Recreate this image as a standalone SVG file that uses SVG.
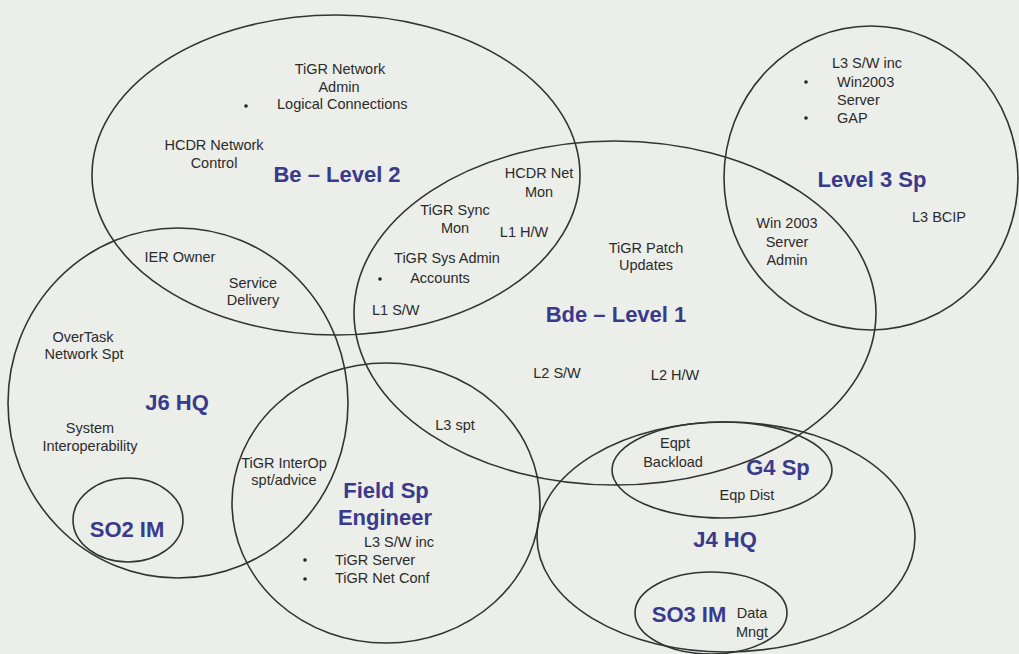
<svg xmlns="http://www.w3.org/2000/svg" width="1019" height="654" viewBox="0 0 1019 654">
<style>
.e{fill:none;stroke:#333;stroke-width:1.6}
.t{font-family:"Liberation Sans",Arial,sans-serif;font-size:14.5px;fill:#2b2b2b;text-anchor:middle}
.l{text-anchor:start}
.h{font-family:"Liberation Sans",Arial,sans-serif;font-size:22px;font-weight:bold;fill:#3a3a8c;text-anchor:middle}
.b{fill:#222}
</style>
<rect width="1019" height="654" fill="#eceee9"/>
<g id="be-level2">
<ellipse class="e" cx="336" cy="175" rx="244" ry="160"/>
<text class="t" x="340" y="74">TiGR Network</text>
<text class="t" x="339" y="92">Admin</text>
<circle class="b" cx="246" cy="106" r="1.8"/>
<text class="t l" x="277" y="109">Logical Connections</text>
<text class="t" x="214" y="150">HCDR Network</text>
<text class="t" x="214" y="168">Control</text>
<text class="h" x="337" y="182">Be – Level 2</text>
<text class="t" x="455" y="215">TiGR Sync</text>
<text class="t" x="455" y="233">Mon</text>
<text class="t" x="447" y="263">TiGR Sys Admin</text>
<circle class="b" cx="380" cy="279" r="1.8"/>
<text class="t" x="440" y="283">Accounts</text>
<text class="t l" x="372" y="315">L1 S/W</text>
<text class="t" x="539" y="178">HCDR Net</text>
<text class="t" x="539" y="197">Mon</text>
<text class="t" x="524" y="237">L1 H/W</text>
</g>
<g id="bde-level1">
<ellipse class="e" cx="615" cy="313" rx="261" ry="172"/>
<text class="t" x="646" y="253">TiGR Patch</text>
<text class="t" x="646" y="270">Updates</text>
<text class="h" x="616" y="322">Bde – Level 1</text>
<text class="t" x="557" y="378">L2 S/W</text>
<text class="t" x="675" y="380">L2 H/W</text>
<text class="t" x="455" y="430">L3 spt</text>
</g>
<g id="level3-sp">
<ellipse class="e" cx="871" cy="178" rx="147" ry="152"/>
<text class="t" x="867" y="68">L3 S/W inc</text>
<circle class="b" cx="806" cy="82" r="1.8"/>
<text class="t l" x="837" y="87">Win2003</text>
<text class="t l" x="837" y="105">Server</text>
<circle class="b" cx="806" cy="118" r="1.8"/>
<text class="t l" x="837" y="123">GAP</text>
<text class="h" x="872" y="187">Level 3 Sp</text>
<text class="t" x="939" y="222">L3 BCIP</text>
<text class="t" x="787" y="228">Win 2003</text>
<text class="t" x="787" y="247">Server</text>
<text class="t" x="787" y="265">Admin</text>
</g>
<g id="j6-hq">
<ellipse class="e" cx="178" cy="403" rx="170" ry="175"/>
<text class="t" x="180" y="262">IER Owner</text>
<text class="t" x="253" y="288">Service</text>
<text class="t" x="253" y="305">Delivery</text>
<text class="t" x="83" y="342">OverTask</text>
<text class="t" x="84" y="359">Network Spt</text>
<text class="h" x="177" y="410">J6 HQ</text>
<text class="t" x="90" y="433">System</text>
<text class="t" x="90" y="451">Interoperability</text>
</g>
<g id="so2-im">
<ellipse class="e" cx="128" cy="520" rx="55" ry="42"/>
<text class="h" x="127" y="537">SO2 IM</text>
</g>
<g id="field-sp-engineer">
<ellipse class="e" cx="386" cy="503" rx="154" ry="140"/>
<text class="t" x="284" y="468">TiGR InterOp</text>
<text class="t" x="284" y="485">spt/advice</text>
<text class="h" x="386" y="498">Field Sp</text>
<text class="h" x="385" y="525">Engineer</text>
<text class="t" x="399" y="547">L3 S/W inc</text>
<circle class="b" cx="305" cy="560" r="1.8"/>
<text class="t l" x="335" y="565">TiGR Server</text>
<circle class="b" cx="305" cy="579" r="1.8"/>
<text class="t l" x="335" y="583">TiGR Net Conf</text>
</g>
<g id="g4-sp">
<ellipse class="e" cx="722" cy="470" rx="110" ry="48"/>
<text class="t" x="675" y="448">Eqpt</text>
<text class="t" x="673" y="467">Backload</text>
<text class="h" x="778" y="475">G4 Sp</text>
<text class="t" x="747" y="500">Eqp Dist</text>
</g>
<g id="j4-hq">
<ellipse class="e" cx="726" cy="537" rx="189" ry="115"/>
<text class="h" x="725" y="547">J4 HQ</text>
</g>
<g id="so3-im">
<ellipse class="e" cx="711" cy="613" rx="76" ry="41"/>
<text class="h" x="689" y="622">SO3 IM</text>
<text class="t" x="752" y="618">Data</text>
<text class="t" x="752" y="637">Mngt</text>
</g>
<g id="connectors"/>
</svg>
